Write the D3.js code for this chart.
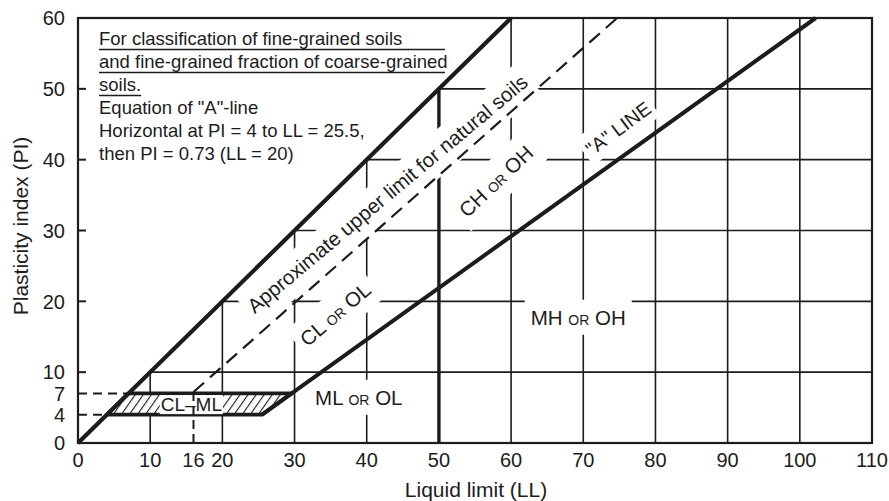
<!DOCTYPE html>
<html>
<head>
<meta charset="utf-8">
<script src="https://cdn.jsdelivr.net/npm/d3@7"></script>
<style>
  body { margin: 0; background: #fff; }
  text { font-family: "Liberation Sans", Arial, Helvetica, sans-serif; fill: #1c1c1c; }
</style>
</head>
<body>
<script>
// plasticity chart (Casagrande) - LL vs PI

// data
var xTicks = [0, 10, 16, 20, 30, 40, 50, 60, 70, 80, 90, 100, 110];
var yTicks = [0, 4, 7, 10, 20, 30, 40, 50, 60];
var xGrid = [10, 20, 30, 40, 50, 60, 70, 80, 90, 100];
var yGrid = [10, 20, 30, 40, 50];
var uLine = [[0, 0], [60, 60]];                        // left boundary
var aLine = [[25.5, 4], [29.6, 7], [102.2, 60]];       // "A" line
var upperLimit = [[16, 7.2], [74.7, 60]];              // approx. upper limit (dashed)
var llSplit = [[50, 0], [50, 50]];                     // LL = 50 divider
var clmlZone = [[4, 4], [25.5, 4], [29.6, 7], [7, 7]];  // hatched CL-ML band
var dashH = [4, 7];                                    // dashed PI guides
var dashV = [[16, 0], [16, 7.2]];                      // dashed LL = 16 guide
var noteLines = [
  "For classification of fine-grained soils",
  "and fine-grained fraction of coarse-grained",
  "soils.",
  "Equation of \"A\"-line",
  "Horizontal at PI = 4 to LL = 25.5,",
  "then PI = 0.73 (LL = 20)"
];
var regionNames = [["CL", "OR", "OL"], ["CH", "OR", "OH"], ["ML", "OR", "OL"], ["MH", "OR", "OH"]];
var lineLabels = ["Approximate upper limit for natural soils", "\"A\" LINE", "CL\u2013ML"];
var xTitle = "Liquid limit (LL)";
var yTitle = "Plasticity index (PI)";

// layout
var W = 889, H = 501;
var x = d3.scaleLinear().domain([0, 110]).range([78, 872]);
var y = d3.scaleLinear().domain([0, 60]).range([443, 18]);
var INK = "#1c1c1c";
var FS = 18.5;     // note text
var TICK_FS = 20;
var TITLE_FS = 21;

var svg = d3.select("body").append("svg")
    .attr("width", W).attr("height", H);

var line = d3.line().x(function(d){ return x(d[0]); }).y(function(d){ return y(d[1]); });

function angleOf(p0, p1) {
    return Math.atan2(y(p0[1]) - y(p1[1]), x(p1[0]) - x(p0[0])) * 180 / Math.PI;
}

// clip for grid: only below the U-line
var defs = svg.append("defs");
defs.append("clipPath").attr("id", "below")
  .append("path")
    .attr("d", line([[0, 0], [60, 60], [110, 60], [110, 0]]) + "Z");

var hatch = defs.append("pattern").attr("id", "hatch")
    .attr("patternUnits", "userSpaceOnUse")
    .attr("width", 6.6).attr("height", 7)
    .attr("patternTransform", "rotate(35)");
hatch.append("rect").attr("width", 6.6).attr("height", 7).attr("fill", "#fff");
hatch.append("line").attr("x1", 0).attr("y1", 0).attr("x2", 0).attr("y2", 7)
    .attr("stroke", INK).attr("stroke-width", 2.2);

// grid
var grid = svg.append("g").attr("clip-path", "url(#below)")
    .attr("stroke", INK).attr("stroke-width", 1.6);
grid.selectAll(".vg").data(xGrid).enter().append("line")
    .attr("x1", function(d){ return x(d); }).attr("x2", function(d){ return x(d); })
    .attr("y1", y(0)).attr("y2", y(60));
grid.selectAll(".hg").data(yGrid).enter().append("line")
    .attr("x1", x(0)).attr("x2", x(110))
    .attr("y1", function(d){ return y(d); }).attr("y2", function(d){ return y(d); });

// LL = 50 divider sits under the labels (it is cut by them)
svg.append("path").attr("d", line(llSplit))
    .attr("stroke", INK).attr("stroke-width", 3.4);

// labels with white backing that cut the grid
var labelLayer = svg.append("g");

function addLabel(parts, ll, pi, rot, big, small) {
    var g = labelLayer.append("g")
        .attr("transform", "translate(" + x(ll) + "," + y(pi) + ") rotate(" + (-rot) + ")");
    var bg = g.append("rect").attr("fill", "#fff");
    var t = g.append("text").attr("text-anchor", "middle").style("font-size", big + "px");
    if (typeof parts === "string") {
        t.text(parts);
    } else {
        t.append("tspan").text(parts[0] + " ");
        t.append("tspan").style("font-size", small + "px").text(parts[1]);
        t.append("tspan").text(" " + parts[2]);
    }
    return { g: g, bg: bg, t: t };
}

// px: side padding, top/bottom: vertical padding in label space
function pad(lbl, px, top, bottom) {
    var b = lbl.t.node().getBBox();
    lbl.bg.attr("x", b.x - px).attr("y", b.y - top)
        .attr("width", b.width + 2 * px).attr("height", b.height + top + bottom);
}

var upAng = angleOf(upperLimit[0], upperLimit[1]);
var aAng = angleOf(aLine[1], aLine[2]);
var uAng = angleOf(uLine[0], uLine[1]);

pad(addLabel(lineLabels[0], 43.5, 34.4, upAng - 1.5, 20.4), 4, 7, 10);
pad(addLabel(regionNames[0], 36.3, 17.4, upAng - 1, 20.5, 14), 6, 8, 8);
pad(addLabel(regionNames[1], 58.6, 36.2, uAng - 1, 20.5, 14), 6, 8, 8);
pad(addLabel(lineLabels[1], 75.4, 43.6, aAng + 1, 19.5), 4, 6, 4);
pad(addLabel(regionNames[2], 38.9, 5.4, 0, 20.5, 14), 6, 6, 6);
pad(addLabel(regionNames[3], 69.3, 16.7, 0, 20.5, 14), 6, 6, 6);

// CL-ML hatched band
svg.append("path")
    .attr("d", line(clmlZone) + "Z")
    .attr("fill", "url(#hatch)")
    .attr("stroke", INK).attr("stroke-width", 3.8).attr("stroke-linejoin", "round");
var clml = addLabel(lineLabels[2], 15.7, 4.5, 0, 19);
svg.node().appendChild(clml.g.node());
pad(clml, 1, -1, -1);

// dashed guides
svg.selectAll(".dh").data(dashH).enter().append("line")
    .attr("x1", x(0)).attr("x2", function(d){ return x(d); })
    .attr("y1", function(d){ return y(d); }).attr("y2", function(d){ return y(d); })
    .attr("stroke", INK).attr("stroke-width", 2).attr("stroke-dasharray", "9,6");
svg.append("path").attr("d", line(dashV))
    .attr("stroke", INK).attr("stroke-width", 2).attr("stroke-dasharray", "9,5");
svg.append("path").attr("d", line(upperLimit))
    .attr("fill", "none").attr("stroke", INK).attr("stroke-width", 2.2)
    .attr("stroke-dasharray", "14,8");

// main lines
svg.append("path").attr("d", line(aLine))
    .attr("fill", "none").attr("stroke", INK).attr("stroke-width", 4);
svg.append("path").attr("d", line(uLine))
    .attr("fill", "none").attr("stroke", INK).attr("stroke-width", 4.2);

// frame
svg.append("rect")
    .attr("x", x(0)).attr("y", y(60))
    .attr("width", x(110) - x(0)).attr("height", y(0) - y(60))
    .attr("fill", "none").attr("stroke", INK).attr("stroke-width", 2.2);

// y ticks: short inward marks
svg.selectAll(".yt").data(yTicks.filter(function(d){ return d >= 10 && d < 60; }))
  .enter().append("line")
    .attr("x1", x(0)).attr("x2", x(0) + 8)
    .attr("y1", function(d){ return y(d); }).attr("y2", function(d){ return y(d); })
    .attr("stroke", INK).attr("stroke-width", 2);

svg.selectAll(".yl").data(yTicks).enter().append("text")
    .attr("x", x(0) - 13)
    .attr("y", function(d){ return y(d); })
    .attr("dy", "0.36em")
    .attr("text-anchor", "end")
    .style("font-size", TICK_FS + "px")
    .text(function(d){ return d; });

svg.selectAll(".xl").data(xTicks).enter().append("text")
    .attr("x", function(d){ return x(d); })
    .attr("y", y(0) + 24)
    .attr("text-anchor", "middle")
    .style("font-size", TICK_FS + "px")
    .text(function(d){ return d; });

// axis titles
svg.append("text")
    .attr("x", (x(0) + x(110)) / 2 + 1).attr("y", 497)
    .attr("text-anchor", "middle")
    .style("font-size", TITLE_FS + "px")
    .text(xTitle);
svg.append("text")
    .attr("transform", "translate(28," + 226 + ") rotate(-90)")
    .attr("text-anchor", "middle")
    .style("font-size", TITLE_FS + "px")
    .text(yTitle);

// note block, top left
var note = svg.append("g");
note.selectAll("text").data(noteLines).enter().append("text")
    .attr("x", 99)
    .attr("y", function(d, i){ return 45 + i * 23; })
    .style("font-size", FS + "px")
    .text(function(d){ return d; });
var soilsW = note.selectAll("text").nodes()[2].getComputedTextLength();
[[0, 346], [1, 346], [2, soilsW]].forEach(function(u) {
    note.append("line")
        .attr("x1", 99).attr("x2", 99 + u[1])
        .attr("y1", 45 + u[0] * 23 + 4.5).attr("y2", 45 + u[0] * 23 + 4.5)
        .attr("stroke", INK).attr("stroke-width", 1.5);
});
</script>
</body>
</html>
